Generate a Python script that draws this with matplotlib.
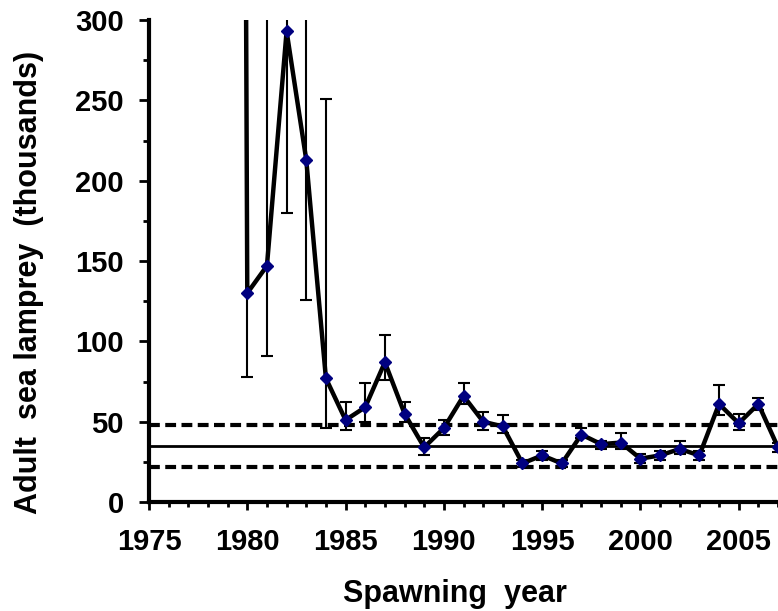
import numpy as np
import matplotlib
matplotlib.use("Agg")
import matplotlib.pyplot as plt
from matplotlib.ticker import MultipleLocator

# spawning year estimates (thousands), 1979 is way off the scale
years = [1979, 1980, 1981, 1982, 1983, 1984, 1985, 1986, 1987, 1988, 1989,
         1990, 1991, 1992, 1993, 1994, 1995, 1996, 1997, 1998, 1999,
         2000, 2001, 2002, 2003, 2004, 2005, 2006, 2007]
lamprey = [3000, 130, 147, 293, 213, 77, 51, 59, 87, 55, 34,
           46, 66, 50, 47, 24, 29, 24, 42, 36, 37,
           27, 29, 33, 29, 61, 49, 61, 34]

# 95% limits from 1980 on
ci_low = [78, 91, 180, 126, 46, 45, 50, 76, 50, 29,
          42, 61, 45, 43, 22, 26, 22, 40, 33, 33,
          24, 26, 30, 26, 54, 45, 57, 31]
ci_high = [420, 400, 450, 380, 251, 62, 74, 104, 62, 40,
           51, 74, 56, 54, 26, 32, 26, 46, 38, 43,
           30, 32, 38, 32, 73, 55, 65, 37]

target_mean = 35
target_high = 48
target_low = 22

plt.rcParams["font.family"] = ["Liberation Sans", "DejaVu Sans"]
plt.rcParams["font.weight"] = "bold"

fig = plt.figure(figsize=(7.78, 6.11), dpi=100)
ax = fig.add_axes([149 / 778, 109 / 611, 629 / 778, 482 / 611])

yrs_ci = np.array(years[1:])
vals_ci = np.array(lamprey[1:])
err = [vals_ci - np.array(ci_low), np.array(ci_high) - vals_ci]
ax.errorbar(yrs_ci, vals_ci, yerr=err, fmt="none", ecolor="black",
            elinewidth=1.5, capsize=4.6, capthick=1.5, zorder=2)

ax.axhline(target_mean, color="black", lw=2, zorder=1)
ax.axhline(target_high, color="black", lw=3, dashes=(2.6, 1.3), zorder=1)
ax.axhline(target_low, color="black", lw=3, dashes=(2.6, 1.3), zorder=1)

ax.plot(years, lamprey, color="black", lw=3.2, zorder=3)
ax.plot(years, lamprey, ls="none", marker="D", ms=6, color="#000080",
        mec="#000080", zorder=4)

ax.set_xlim(1975, 2007)
ax.set_ylim(0, 300)
ax.xaxis.set_major_locator(MultipleLocator(5))
ax.xaxis.set_minor_locator(MultipleLocator(1))
ax.yaxis.set_major_locator(MultipleLocator(50))
ax.yaxis.set_minor_locator(MultipleLocator(25))

for side in ["top", "right"]:
    ax.spines[side].set_visible(False)
for side in ["left", "bottom"]:
    ax.spines[side].set_linewidth(3)

ax.tick_params(axis="x", which="major", length=6, width=2, pad=13, labelsize=21)
ax.tick_params(axis="x", which="minor", length=3.5, width=2)
ax.tick_params(axis="y", which="major", length=7, width=2, pad=11, labelsize=21)
ax.tick_params(axis="y", which="minor", length=4, width=2)

fig.text(29 / 778, 1 - 282 / 611, "Adult  sea lamprey  (thousands)",
         rotation=90, ha="center", va="center", fontsize=22, fontweight="bold")
fig.text(455 / 778, 1 - 594 / 611, "Spawning  year",
         ha="center", va="center", fontsize=22, fontweight="bold")

fig.savefig("out.png", dpi=100)
